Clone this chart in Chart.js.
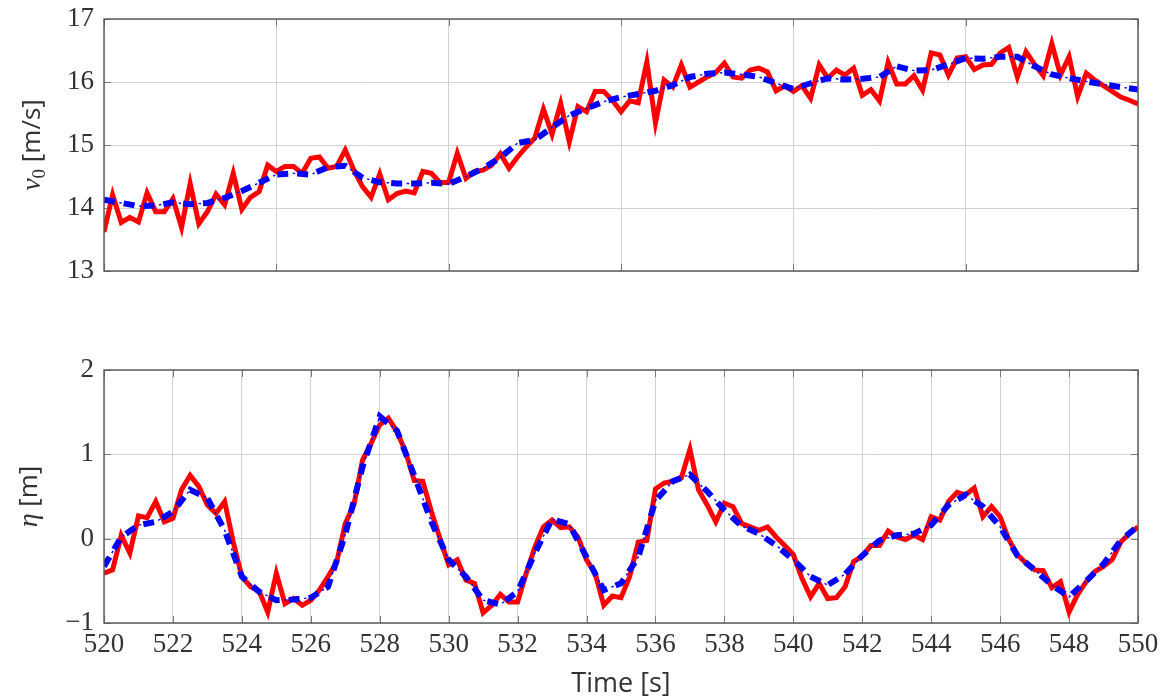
<!DOCTYPE html>
<html>
<head>
<meta charset="utf-8">
<script src="https://cdn.jsdelivr.net/npm/chart.js@4.4.1/dist/chart.umd.min.js"></script>
<style>
  html, body { margin: 0; padding: 0; background: #ffffff; }
  #wrap { position: relative; width: 1170px; height: 698px; overflow: hidden; }
  canvas { position: absolute; left: 0; }
  #speedCanvas { top: 0; }
  #elevCanvas { top: 320px; }
</style>
</head>
<body>
<div id="wrap">
  <canvas id="speedCanvas" width="1170" height="320"></canvas>
  <canvas id="elevCanvas" width="1170" height="378"></canvas>
</div>
<script>
// Time axis: measured signals every 0.25 s, estimates every 0.5 s
const tStart = 520;
const tEnd = 550;
const measStep = 0.25;
const estStep = 0.5;

// Wind speed v0 [m/s]
const speedMeasured = [
  13.62, 14.21, 13.77, 13.85, 13.78, 14.24, 13.94, 13.94, 14.15, 13.69,
  14.39, 13.75, 13.94, 14.22, 14.05, 14.55, 13.98, 14.17, 14.26, 14.68,
  14.58, 14.66, 14.66, 14.55, 14.79, 14.81, 14.63, 14.66, 14.92, 14.60,
  14.34, 14.17, 14.54, 14.13, 14.23, 14.27, 14.24, 14.58, 14.55, 14.40,
  14.41, 14.87, 14.47, 14.58, 14.60, 14.68, 14.86, 14.63, 14.81, 14.97,
  15.11, 15.57, 15.17, 15.66, 15.05, 15.61, 15.53, 15.85, 15.85, 15.71,
  15.53, 15.70, 15.67, 16.32, 15.35, 16.03, 15.92, 16.27, 15.92, 16.00,
  16.08, 16.15, 16.30, 16.08, 16.06, 16.19, 16.22, 16.16, 15.86, 15.94,
  15.85, 15.94, 15.74, 16.27, 16.06, 16.19, 16.11, 16.22, 15.79, 15.88,
  15.70, 16.31, 15.97, 15.97, 16.10, 15.87, 16.46, 16.43, 16.11, 16.38,
  16.40, 16.20, 16.27, 16.28, 16.46, 16.55, 16.08, 16.48, 16.28, 16.10,
  16.61, 16.11, 16.40, 15.77, 16.14, 16.03, 15.94, 15.85, 15.76, 15.71,
  15.65
];
const speedEstimated = [
  14.13, 14.08, 14.03, 14.04, 14.09, 14.06, 14.08, 14.16, 14.27, 14.40,
  14.53, 14.55, 14.53, 14.65, 14.67, 14.48, 14.41, 14.39, 14.39, 14.40,
  14.38, 14.50, 14.63, 14.80, 15.03, 15.08, 15.28, 15.47, 15.58, 15.69,
  15.76, 15.81, 15.86, 15.95, 16.08, 16.13, 16.15, 16.12, 16.08, 15.98,
  15.89, 15.98, 16.06, 16.04, 16.05, 16.08, 16.25, 16.18, 16.19, 16.28,
  16.38, 16.37, 16.40, 16.40, 16.25, 16.12, 16.06, 16.01, 15.96, 15.92,
  15.88
];

// Wave elevation eta [m]
const etaMeasured = [
  -0.41, -0.37, 0.04, -0.17, 0.27, 0.25, 0.44, 0.20, 0.24, 0.58,
  0.75, 0.62, 0.40, 0.30, 0.44, -0.04, -0.45, -0.57, -0.62, -0.87,
  -0.41, -0.77, -0.71, -0.79, -0.73, -0.61, -0.45, -0.28, 0.18, 0.40,
  0.93, 1.13, 1.35, 1.43, 1.27, 1.03, 0.69, 0.68, 0.32, 0.00,
  -0.31, -0.25, -0.49, -0.53, -0.88, -0.79, -0.66, -0.75, -0.75, -0.41,
  -0.10, 0.14, 0.22, 0.13, 0.14, 0.02, -0.25, -0.41, -0.79, -0.68,
  -0.70, -0.45, -0.04, -0.02, 0.59, 0.66, 0.68, 0.72, 1.06, 0.58,
  0.40, 0.20, 0.42, 0.38, 0.18, 0.14, 0.10, 0.14, 0.02, -0.08,
  -0.19, -0.47, -0.69, -0.53, -0.71, -0.70, -0.57, -0.27, -0.21, -0.08,
  -0.08, 0.09, 0.02, -0.01, 0.04, -0.01, 0.26, 0.22, 0.44, 0.55,
  0.52, 0.60, 0.26, 0.38, 0.26, -0.01, -0.19, -0.29, -0.37, -0.38,
  -0.58, -0.51, -0.87, -0.66, -0.51, -0.39, -0.33, -0.25, -0.04, 0.06,
  0.14
];
const etaEstimated = [
  -0.33, 0.02, 0.16, 0.20, 0.32, 0.58, 0.48, 0.10, -0.45, -0.63,
  -0.73, -0.72, -0.70, -0.57, 0.05, 0.85, 1.45, 1.28, 0.75, 0.20,
  -0.25, -0.45, -0.73, -0.78, -0.63, -0.17, 0.23, 0.17, -0.22, -0.61,
  -0.53, -0.22, 0.45, 0.68, 0.76, 0.56, 0.34, 0.15, 0.06, -0.08,
  -0.25, -0.45, -0.55, -0.42, -0.20, -0.02, 0.04, 0.06, 0.16, 0.40,
  0.52, 0.38, 0.14, -0.20, -0.37, -0.55, -0.69, -0.50, -0.30, -0.02,
  0.15
];

// Axis ranges and tick spacing
const speedRange = [13, 17];
const etaRange = [-1, 2];
const speedTimeTickStep = 5;
const etaTimeTickStep = 2;
const valueTickStep = 1;

// Styling
const RED = '#ff0000';
const BLUE = '#0000ff';
const GRID = '#d2d2d2';
const FRAME = '#555555';
const TEXT = '#333333';
const SERIF = '"Liberation Serif", "DejaVu Serif", serif';
const SANS = '"Open Sans", "Noto Sans", sans-serif';

function toPoints(values, step) {
  return values.map((v, i) => ({ x: tStart + i * step, y: v }));
}

function seriesSets(measured, estimated) {
  const est = toPoints(estimated, estStep);
  return [
    { // thick dashes of the estimate
      data: est, borderColor: BLUE, borderWidth: 6, borderDash: [11, 9],
      borderCapStyle: 'butt', pointRadius: 0, tension: 0, order: 0
    },
    { // thin dots between the dashes
      data: est, borderColor: BLUE, borderWidth: 1.4, borderDash: [2.5, 17.5],
      borderDashOffset: 4.5, borderCapStyle: 'butt', pointRadius: 0, tension: 0, order: 0
    },
    { // measurement
      data: toPoints(measured, measStep), borderColor: RED, borderWidth: 5,
      borderJoinStyle: 'miter', pointRadius: 0, tension: 0, order: 1
    }
  ];
}

// Frame around the plot area with inward tick marks
const framePlugin = {
  id: 'frame',
  beforeDatasetsDraw(chart) {
    const { ctx, chartArea: a, scales } = chart;
    ctx.save();
    ctx.strokeStyle = '#7a7a7a';
    ctx.lineWidth = 1;
    const len = 7;
    scales.y.ticks.forEach(t => {
      const y = Math.round(scales.y.getPixelForValue(t.value)) + 0.5;
      ctx.beginPath();
      ctx.moveTo(a.left, y); ctx.lineTo(a.left + len, y);
      ctx.moveTo(a.right, y); ctx.lineTo(a.right - len, y);
      ctx.stroke();
    });
    scales.x.ticks.forEach(t => {
      const x = Math.round(scales.x.getPixelForValue(t.value)) + 0.5;
      ctx.beginPath();
      ctx.moveTo(x, a.bottom); ctx.lineTo(x, a.bottom - len);
      ctx.moveTo(x, a.top); ctx.lineTo(x, a.top + len);
      ctx.stroke();
    });
    ctx.restore();
  },
  afterDraw(chart) {
    const { ctx, chartArea: a } = chart;
    ctx.save();
    ctx.strokeStyle = FRAME;
    ctx.lineWidth = 1.4;
    ctx.strokeRect(a.left, a.top, a.right - a.left, a.bottom - a.top);
    ctx.restore();
  }
};

// Axis titles with mixed math / text fonts
const titlePlugin = {
  id: 'axisTitles',
  afterDraw(chart, args, opts) {
    const { ctx, chartArea: a } = chart;
    ctx.save();
    ctx.fillStyle = TEXT;
    ctx.textBaseline = 'alphabetic';
    if (opts.y) {
      const parts = opts.y.parts;
      let total = 0;
      parts.forEach(p => { ctx.font = p.font; p.w = ctx.measureText(p.text).width; total += p.w; });
      ctx.translate(opts.y.baseline, (a.top + a.bottom) / 2);
      ctx.rotate(-Math.PI / 2);
      let x = -total / 2;
      parts.forEach(p => {
        ctx.font = p.font;
        ctx.fillText(p.text, x, p.dy || 0);
        x += p.w;
      });
      ctx.setTransform(1, 0, 0, 1, 0, 0);
    }
    if (opts.x) {
      ctx.font = opts.x.font;
      ctx.textAlign = 'center';
      ctx.fillText(opts.x.text, (a.left + a.right) / 2, opts.x.baseline);
    }
    ctx.restore();
  }
};

function minusSign(v) {
  return String(v).replace('-', '\u2212');
}

function makeChart(canvas, cfg) {
  return new Chart(canvas, {
    type: 'line',
    data: { datasets: seriesSets(cfg.measured, cfg.estimated) },
    plugins: [framePlugin, titlePlugin],
    options: {
      responsive: false,
      animation: false,
      events: [],
      layout: { padding: { left: 0, right: 32, top: cfg.padTop, bottom: cfg.padBottom } },
      plugins: {
        legend: { display: false },
        tooltip: { enabled: false },
        axisTitles: cfg.titles
      },
      scales: {
        x: {
          type: 'linear', min: tStart, max: tEnd,
          border: { display: false },
          grid: { color: GRID, lineWidth: 1, drawTicks: false },
          ticks: {
            display: cfg.xLabels, stepSize: cfg.xStep, padding: 6,
            font: { family: SERIF, size: 27 }, color: TEXT, maxRotation: 0,
            callback: v => minusSign(v)
          },
          afterFit: s => {
            s.height = cfg.xHeight;
            s.paddingLeft = 0; s.paddingRight = 0;
          }
        },
        y: {
          min: cfg.range[0], max: cfg.range[1],
          border: { display: false },
          grid: { color: GRID, lineWidth: 1, drawTicks: false },
          ticks: {
            stepSize: valueTickStep, padding: 10,
            font: { family: SERIF, size: 27 }, color: TEXT,
            callback: v => minusSign(v)
          },
          afterFit: s => {
            s.width = 104;
            s.paddingTop = 0; s.paddingBottom = 0;
          }
        }
      }
    }
  });
}

makeChart(document.getElementById('speedCanvas'), {
  measured: speedMeasured, estimated: speedEstimated,
  range: speedRange, xStep: speedTimeTickStep, xLabels: false,
  padTop: 19, padBottom: 49, xHeight: 0,
  titles: {
    y: {
      baseline: 40,
      parts: [
        { text: 'v', font: 'italic 28px ' + SERIF },
        { text: '0', font: '19px ' + SERIF, dy: 5 },
        { text: ' [m/s]', font: '26px ' + SANS }
      ]
    }
  }
});

makeChart(document.getElementById('elevCanvas'), {
  measured: etaMeasured, estimated: etaEstimated,
  range: etaRange, xStep: etaTimeTickStep, xLabels: true,
  padTop: 50, padBottom: 0, xHeight: 75,
  titles: {
    y: {
      baseline: 37,
      parts: [
        { text: '\u03B7', font: 'italic 28px ' + SERIF },
        { text: ' [m]', font: '26px ' + SANS }
      ]
    },
    x: { text: 'Time [s]', font: '27px ' + SANS, baseline: 372 }
  }
});
</script>
</body>
</html>
